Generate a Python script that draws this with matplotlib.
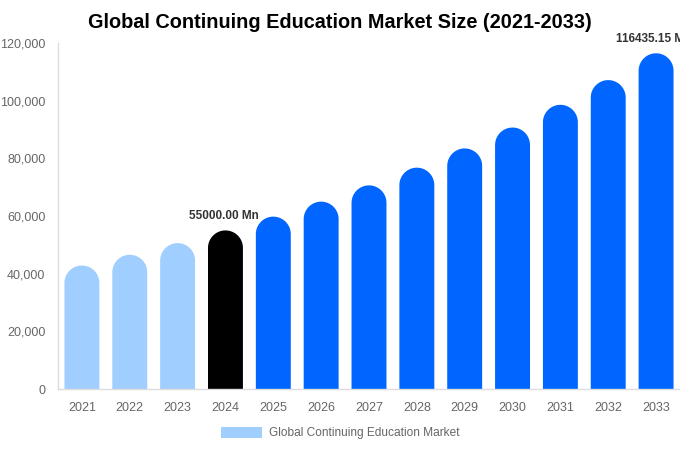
import matplotlib
matplotlib.use("Agg")
import numpy as np
import matplotlib.pyplot as plt
from matplotlib.patches import PathPatch, Patch
from matplotlib.path import Path

years = ["2021", "2022", "2023", "2024", "2025", "2026", "2027",
         "2028", "2029", "2030", "2031", "2032", "2033"]
values = [42830, 46560, 50600, 55000, 59780, 64980, 70620,
          76760, 83430, 90680, 98560, 107130, 116435.15]
bar_colors = ["#a0cfff"] * 3 + ["#000000"] + ["#0066ff"] * 9
labels = {3: "55000.00 Mn", 12: "116435.15 Mn"}
legend_label = "Global Continuing Education Market"
title = "Global Continuing Education Market Size (2021-2033)"
yticks = [0, 20000, 40000, 60000, 80000, 100000, 120000]

plt.rcParams['font.family'] = ['Liberation Sans', 'DejaVu Sans']

W, H = 680, 450
fig = plt.figure(figsize=(W / 100, H / 100), dpi=100)
left, right, top, bottom = 58, 680, 43, 389
ax = fig.add_axes([left / W, 1 - bottom / H, (right - left) / W, (bottom - top) / H])
ymax = 120000
ax.set_xlim(-0.5, len(years) - 0.5)
ax.set_ylim(0, ymax)

bw = 0.73
px_per_x = (right - left) / len(years)
px_per_y = (bottom - top) / ymax
r_px = bw * px_per_x / 2
r_data = r_px / px_per_y

theta = np.linspace(0, np.pi, 60)
for i, (v, c) in enumerate(zip(values, bar_colors)):
    body = max(v - r_data, 0)
    xs = [i + bw / 2] + list(i + (bw / 2) * np.cos(theta)) + [i - bw / 2]
    ys = [0] + list(body + r_data * np.sin(theta)) + [0]
    verts = list(zip(xs, ys)) + [(xs[0], ys[0])]
    codes = [Path.MOVETO] + [Path.LINETO] * (len(verts) - 2) + [Path.CLOSEPOLY]
    ax.add_patch(PathPatch(Path(verts, codes), facecolor=c, edgecolor='none'))
    if i in labels:
        ax.text(i - 2 / px_per_x, v + 14.5 / px_per_y, labels[i], ha='center', va='center',
                fontsize=8.5, fontweight='bold', color='#333333', clip_on=False)

ax.set_xticks(range(len(years)))
ax.set_xticklabels(years)
ax.set_yticks(yticks)
ax.set_yticklabels([f"{t:,}" for t in yticks])
ax.tick_params(axis='both', length=0, labelsize=9, labelcolor='#666666')
ax.tick_params(axis='x', pad=9.5)
ax.tick_params(axis='y', pad=9)
for s in ['top', 'right']:
    ax.spines[s].set_visible(False)
for s in ['left', 'bottom']:
    ax.spines[s].set_color('#dddddd')
    ax.spines[s].set_linewidth(1)

fig.text(340 / W, 1 - 22 / H, title, ha='center', va='center', fontsize=14.3,
         fontweight='bold', color='#000000')

handle = Patch(facecolor='#a0cfff', edgecolor='none')
leg = fig.legend([handle], [legend_label], loc='center', bbox_to_anchor=(340 / W, 1 - 433 / H),
                 frameon=False, fontsize=8.6, handlelength=3.49, handleheight=1.05,
                 handletextpad=0.52)
for t in leg.get_texts():
    t.set_color('#666666')

fig.savefig("out.png", dpi=100)
